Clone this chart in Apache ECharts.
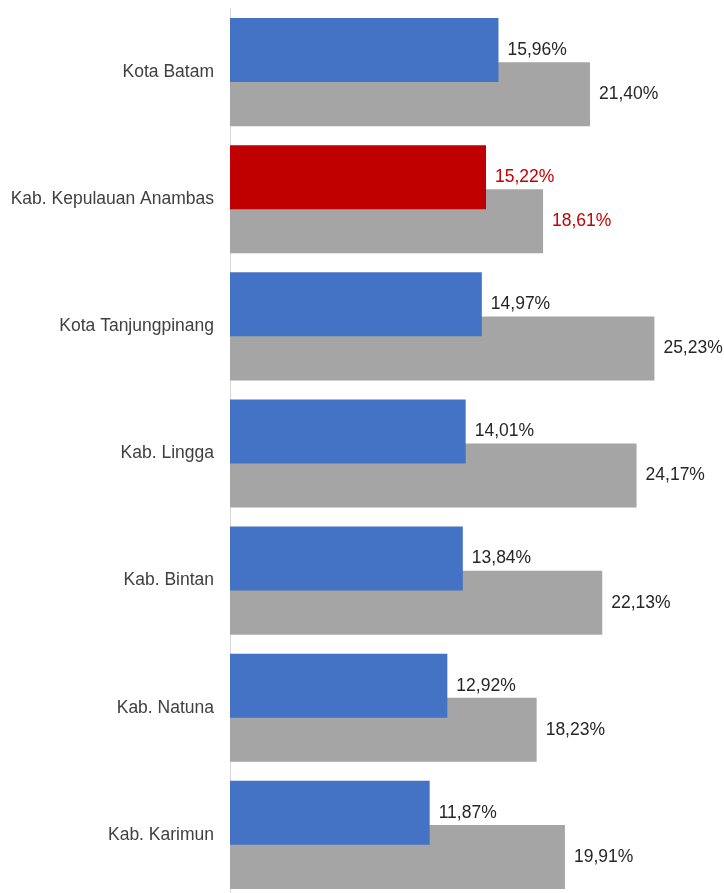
<!DOCTYPE html>
<html>
<head>
<meta charset="utf-8">
<script src="https://cdn.jsdelivr.net/npm/echarts@6/dist/echarts.min.js"></script>
<style>
  html, body { margin: 0; padding: 0; background: #fff; }
  #chart { width: 724px; height: 893px; }
</style>
</head>
<body>
<div id="chart"></div>
<script>
// Regions, top to bottom
const regions = [
  'Kota Batam',
  'Kab. Kepulauan Anambas',
  'Kota Tanjungpinang',
  'Kab. Lingga',
  'Kab. Bintan',
  'Kab. Natuna',
  'Kab. Karimun'
];
// Front bar values (%)
const frontValues = [15.96, 15.22, 14.97, 14.01, 13.84, 12.92, 11.87];
// Back bar values (%)
const backValues = [21.40, 18.61, 25.23, 24.17, 22.13, 18.23, 19.91];
// Region shown highlighted in red
const highlightRegion = 'Kab. Kepulauan Anambas';

const BLUE = '#4472C4';
const GRAY = '#A5A5A5';
const RED = '#C00000';
const TEXT = '#262626';
const FONT = 'Liberation Sans, Arial, sans-serif';

const fmt = v => v.toFixed(2).replace('.', ',') + '%';

function items(values, baseColor, colorFront) {
  return values.map((v, i) => {
    const hl = regions[i] === highlightRegion;
    return {
      value: v,
      itemStyle: { color: hl && colorFront ? RED : baseColor },
      label: { color: hl ? RED : TEXT }
    };
  });
}

const valueLabel = {
  show: true, position: 'right', distance: 9,
  fontSize: 17.5, fontFamily: FONT,
  formatter: p => fmt(p.value)
};

const chart = echarts.init(document.getElementById('chart'), null, { renderer: 'canvas' });
chart.setOption({
  animation: false,
  // the last band runs past the bottom edge of the canvas
  grid: { left: 230, top: 8.5, width: 471, height: 890, outerBoundsMode: 'none' },
  xAxis: {
    type: 'value', min: 0, max: 28,
    show: false
  },
  yAxis: {
    type: 'category',
    data: regions,
    inverse: true,
    axisLine: { show: true, lineStyle: { color: '#D9D9D9', width: 1 } },
    axisTick: { show: false },
    axisLabel: { color: '#404040', fontSize: 17.5, fontFamily: FONT, margin: 16 }
  },
  series: [
    {
      type: 'bar',
      data: items(frontValues, BLUE, true),
      barWidth: 64,
      barGap: '-31%',
      z: 3,
      label: valueLabel
    },
    {
      type: 'bar',
      data: items(backValues, GRAY, false),
      barWidth: 64,
      barGap: '-31%',
      z: 2,
      label: valueLabel
    }
  ]
});
</script>
</body>
</html>
